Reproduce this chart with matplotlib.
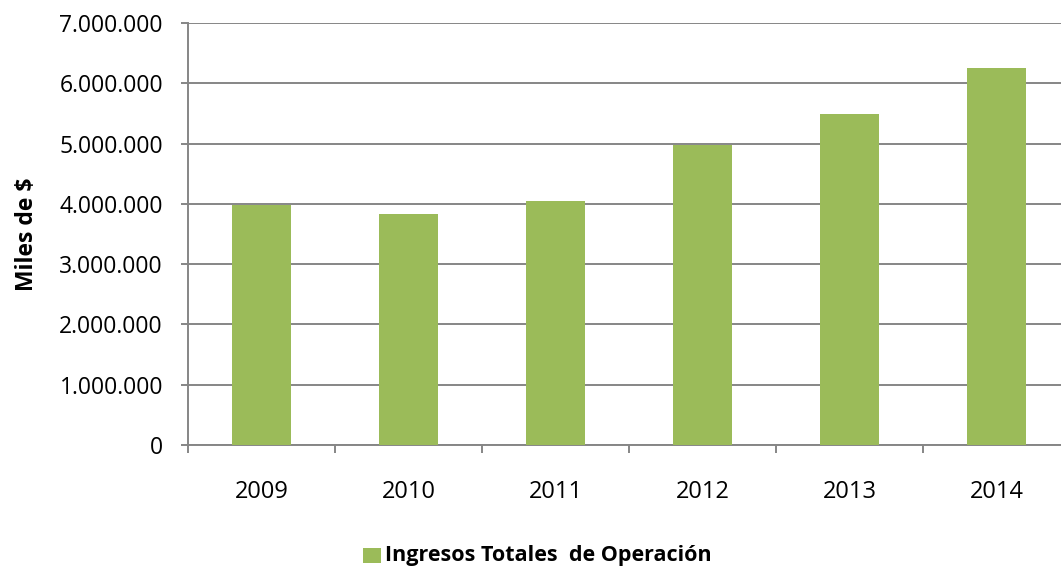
import matplotlib
matplotlib.use("Agg")
import matplotlib.pyplot as plt
from matplotlib.ticker import FuncFormatter, FixedLocator
from matplotlib.patches import Rectangle

years = ["2009", "2010", "2011", "2012", "2013", "2014"]
ingresos = [3980000, 3840000, 4040000, 4970000, 5490000, 6250000]
series_name = "Ingresos Totales  de Operación"
y_label = "Miles de $"

plt.rcParams['font.family'] = ['Open Sans', 'DejaVu Sans']

fig = plt.figure(figsize=(10.61, 5.68), dpi=100)
W, H = 1061, 568
ax = fig.add_axes([188 / W, 1 - 445 / H, (1070 - 188) / W, (445 - 23) / H])

green = "#9BBB59"
grid_c = "#868686"
x = list(range(len(years)))
ax.bar(x, ingresos, width=0.40, color=green, zorder=3)

ax.set_xlim(-0.5, len(years) - 0.5)
ax.set_ylim(0, 7000000)
ax.set_yticks([i * 1000000 for i in range(8)])
ax.yaxis.set_major_formatter(FuncFormatter(lambda v, p: f"{int(v):,}".replace(",", ".")))
ax.grid(axis='y', color=grid_c, linewidth=1.4, zorder=0)

for s in ['top', 'right']:
    ax.spines[s].set_visible(False)
for s in ['left', 'bottom']:
    ax.spines[s].set_color(grid_c)
    ax.spines[s].set_linewidth(1.4)

ax.set_xticks(x)
ax.set_xticklabels(years)
ax.xaxis.set_minor_locator(FixedLocator([i - 0.5 for i in range(len(years) + 1)]))
ax.tick_params(axis='x', which='major', length=0, pad=25, labelsize=17)
ax.tick_params(axis='x', which='minor', length=6, width=1.4, color=grid_c, direction='out')
ax.tick_params(axis='y', length=5, width=1.4, color=grid_c, direction='out', pad=13, labelsize=16.5)

fig.text(27 / W, 1 - 234 / H, y_label, rotation=90, ha='center', va='center',
         fontsize=16.5, fontweight='bold')

# legend
fig.patches.append(Rectangle((363 / W, 1 - 563 / H), 18 / W, 15 / H, transform=fig.transFigure,
                             facecolor=green, edgecolor='none'))
fig.text(385 / W, 1 - 555 / H, series_name, ha='left', va='center', fontsize=15.5, fontweight='bold')

fig.savefig("out.png", dpi=100)
